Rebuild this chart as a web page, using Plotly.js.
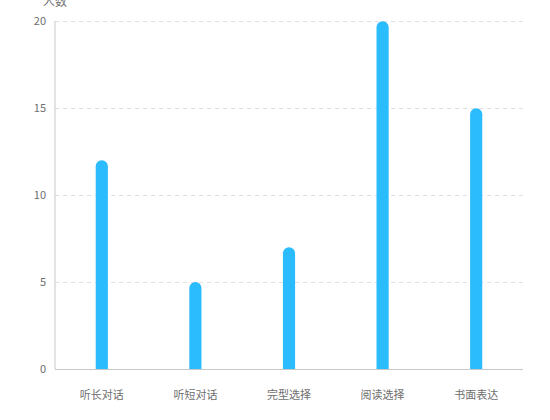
<!DOCTYPE html>
<html>
<head>
<meta charset="utf-8">
<script src="https://cdn.plot.ly/plotly-3.0.1.min.js"></script>
<style>
  html, body { margin: 0; padding: 0; background: #fff; }
  #chart { width: 550px; height: 420px; }
</style>
</head>
<body>
<div id="chart"></div>
<script>
// ── Data ────────────────────────────────────────────────
const categories = ["听长对话", "听短对话", "完型选择", "阅读选择", "书面表达"];
const counts = [12, 5, 7, 20, 15];
const yTicks = [0, 5, 10, 15, 20];
const yAxisName = "人数";

const BAR_COLOR = "#2bbcfe";
const TEXT_COLOR = "#6e6e6e";
const AXIS_COLOR = "#c8c8c8";
const FONT = "'Noto Sans CJK SC', 'Noto Sans', sans-serif";

const yMax = yTicks[yTicks.length - 1];

const traces = [{
  type: "bar",
  x: categories,
  y: counts,
  marker: { color: BAR_COLOR, cornerradius: 6 },
  hoverinfo: "x+y",
}];

const layout = {
  width: 550,
  height: 420,
  margin: { l: 55, r: 27, t: 16, b: 51 },
  paper_bgcolor: "#fff",
  plot_bgcolor: "#fff",
  font: { family: FONT, size: 11, color: TEXT_COLOR },
  showlegend: false,
  bargap: 0.87,
  xaxis: {
    type: "category",
    showgrid: false,
    showline: true,
    linecolor: AXIS_COLOR,
    linewidth: 1,
    ticks: "",
    ticklabelstandoff: 16,
    tickfont: { size: 11, color: TEXT_COLOR },
    fixedrange: true,
  },
  yaxis: {
    // some room above 20, otherwise plotly clips the top gridline
    range: [0, yMax + 0.3],
    tickvals: yTicks,
    ticktext: yTicks.map(String),
    showgrid: true,
    gridcolor: "#e0e0e0",
    griddash: "4px,4px",
    gridwidth: 1,
    zeroline: false,
    showline: false,
    ticks: "",
    ticklabelstandoff: 8,
    tickfont: { size: 11, color: TEXT_COLOR },
    fixedrange: true,
  },
  // y axis line only up to the last tick, like the original
  shapes: [{
    type: "line",
    xref: "paper", yref: "y",
    x0: 0, x1: 0, y0: 0, y1: yMax,
    line: { color: AXIS_COLOR, width: 1 },
  }],
  annotations: [{
    text: yAxisName,
    xref: "paper", yref: "paper",
    x: 0, y: 1,
    xanchor: "center", yanchor: "bottom",
    yshift: 5,
    showarrow: false,
    font: { size: 12, color: TEXT_COLOR },
  }],
};

Plotly.newPlot("chart", traces, layout, { displayModeBar: false, staticPlot: true });
</script>
</body>
</html>
